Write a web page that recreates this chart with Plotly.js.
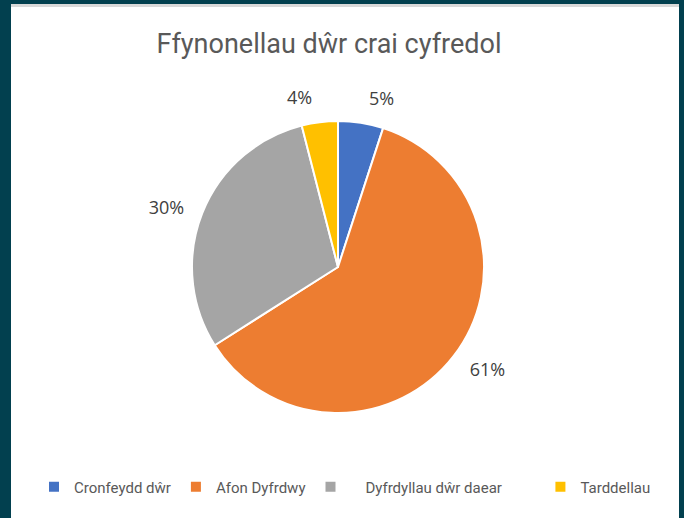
<!DOCTYPE html>
<html>
<head>
<meta charset="utf-8">
<script src="https://cdn.plot.ly/plotly-3.0.1.min.js"></script>
<style>html,body{margin:0;padding:0;background:#02404f;}#chart{width:684px;height:518px;}</style>
</head>
<body>
<div id="chart"></div>
<script>
const categories = ["Cronfeydd dŵr", "Afon Dyfrdwy", "Dyfrdyllau dŵr daear", "Tarddellau"];
const shares = [5, 61, 30, 4];
const sliceColors = ["#4472c4", "#ed7d31", "#a5a5a5", "#ffc000"];
const chartTitle = "Ffynonellau dŵr crai cyfredol";

// legend spacing as in the original (extra gaps around one entry)
const NB = "\u00a0";
const padBefore = [0, 0, 4, 0];
const padAfter = [0, 0, 9, 0];
const legendLabels = categories.map((c, i) => NB.repeat(padBefore[i]) + c + NB.repeat(padAfter[i]));

const W = 684, H = 518;
const cx = 338, cy = 267, r = 146, rLab = 159;
const dom = rad => ({x: [(cx - rad) / W, (cx + rad) / W], y: [(H - cy - rad) / H, (H - cy + rad) / H]});

const data = [{
  type: "pie",
  labels: legendLabels,
  values: shares,
  sort: false,
  direction: "clockwise",
  rotation: 0,
  marker: {colors: sliceColors, line: {color: "#ffffff", width: 2}},
  textinfo: "none",
  hoverinfo: "label+percent",
  domain: dom(r)
}, {
  type: "pie",
  labels: legendLabels,
  values: shares,
  sort: false,
  direction: "clockwise",
  rotation: 0,
  showlegend: false,
  marker: {colors: ["rgba(0,0,0,0)", "rgba(0,0,0,0)", "rgba(0,0,0,0)", "rgba(0,0,0,0)"], line: {width: 0}},
  textinfo: "percent",
  textposition: "outside",
  outsidetextfont: {family: "Open Sans, sans-serif", size: 18, color: "#404040"},
  hoverinfo: "skip",
  domain: dom(rLab)
}];

const layout = {
  width: W, height: H,
  margin: {l: 0, r: 0, t: 0, b: 0},
  paper_bgcolor: "#02404f",
  title: {
    text: chartTitle,
    font: {family: "Roboto, sans-serif", size: 27, color: "#595959"},
    x: 329 / W, xanchor: "center", xref: "container",
    y: 1 - 44 / H, yanchor: "middle", yref: "container"
  },
  showlegend: true,
  legend: {
    orientation: "h",
    x: 34 / W, xanchor: "left",
    y: 1 - 487 / H, yanchor: "middle",
    font: {family: "Roboto, sans-serif", size: 15, color: "#595959"},
    bgcolor: "rgba(0,0,0,0)"
  },
  shapes: [
    {type: "rect", xref: "paper", yref: "paper", x0: 11 / W, x1: 679 / W, y0: 0, y1: 1 - 4 / H,
     fillcolor: "#d9d9d9", line: {width: 0}, layer: "below"},
    {type: "rect", xref: "paper", yref: "paper", x0: 11 / W, x1: 679 / W, y0: 0, y1: 1 - 7 / H,
     fillcolor: "#ffffff", line: {width: 0}, layer: "below"}
  ]
};

Plotly.newPlot("chart", data, layout, {displayModeBar: false, staticPlot: true});
</script>
</body>
</html>
